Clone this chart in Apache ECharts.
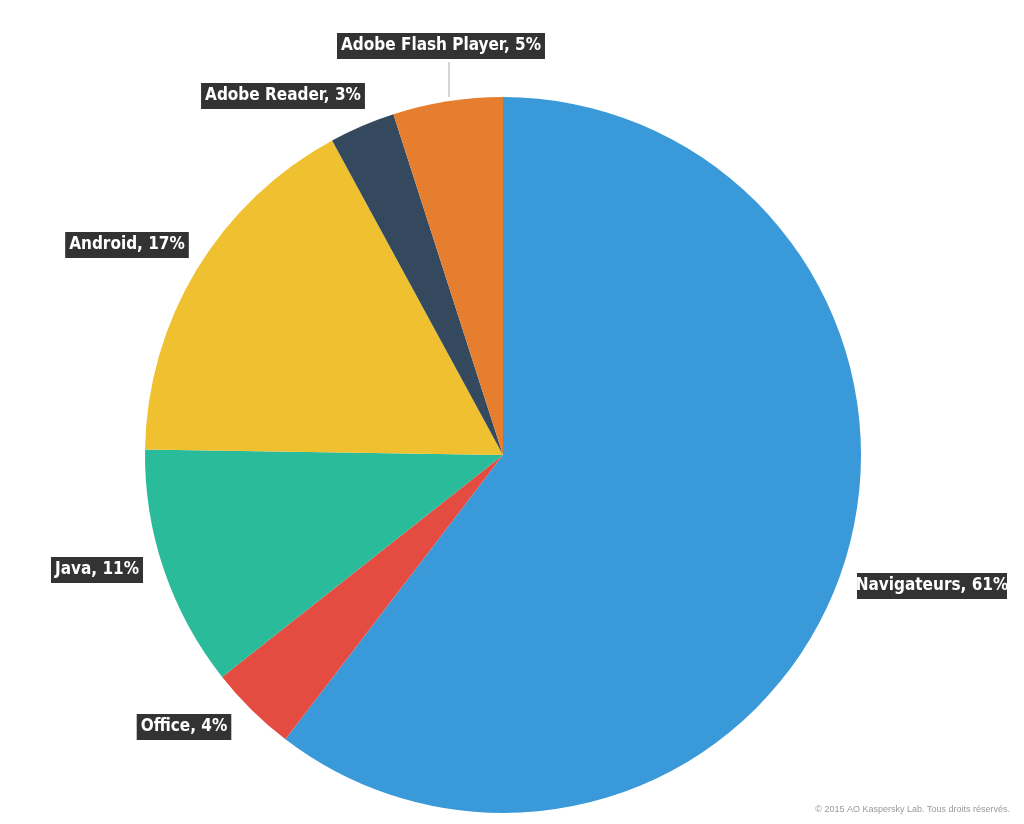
<!DOCTYPE html>
<html><head><meta charset="utf-8">
<script src="https://cdn.jsdelivr.net/npm/echarts@6/dist/echarts.min.js"></script>
<style>html,body{margin:0;background:#fff}#c{width:1024px;height:824px}</style>
</head><body><div id="c"></div>
<script>
// parts de marché des exploits
var names = ['Navigateurs', 'Office', 'Java', 'Android', 'Adobe Reader', 'Adobe Flash Player'];
var values = [61, 4, 11, 17, 3, 5];
var colors = ['#3a99d8', '#e44c41', '#2abb9b', '#efc130', '#34495e', '#e67e30'];
// centre des étiquettes
var labelPos = [[932, 586], [184, 727], [97, 570], [127, 245], [283, 96], [441, 46]];

var chart = echarts.init(document.getElementById('c'));
var data = [];
for (var i = 0; i < names.length; i++) {
	data.push({name: names[i], value: values[i], itemStyle: {color: colors[i]}});
}
data[0].label = {width: 142, align: 'center'};
chart.setOption({
	animation: false,
	graphic: [{
		type: 'text', right: 14, bottom: 10,
		style: {text: '© 2015 AO Kaspersky Lab. Tous droits réservés.', fill: '#999', font: '9px "Liberation Sans"'}
	}],
	series: [{
		type: 'pie',
		center: [503, 455],
		radius: [0, 358],
		startAngle: 90,
		clockwise: true,
		data: data,
		itemStyle: {borderWidth: 0},
		label: {
			show: true,
			position: 'outside',
			formatter: '{b}, {c}%',
			color: '#fff',
			backgroundColor: '#333',
			padding: [5, 4, 4, 4],
			overflow: 'none',
			fontFamily: '"DejaVu Sans Condensed", "Liberation Sans Narrow", "Liberation Sans"',
			fontWeight: 'bold',
			fontSize: 17
		},
		labelLine: {show: true, lineStyle: {color: '#aaa', width: 1}},
		labelLayout: function(p) {
			var pos = labelPos[p.dataIndex];
			var r = {x: pos[0], y: pos[1], align: 'center', verticalAlign: 'middle'};
			if (p.dataIndex == 5) {
				r.labelLinePoints = [[449, 62], [449, 80], [449, 97]];
			} else {
				r.labelLinePoints = [[0, 0], [0, 0], [0, 0]];
			}
			return r;
		}
	}]
});
</script>
</body></html>
